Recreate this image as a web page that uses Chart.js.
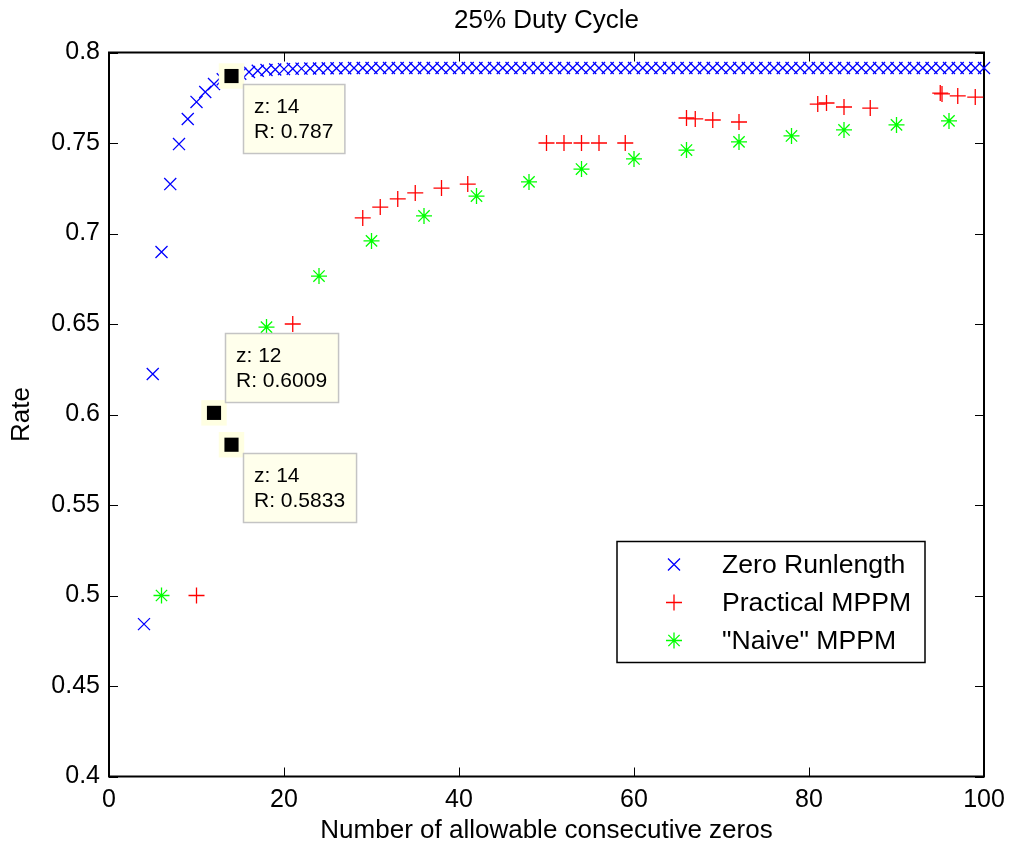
<!DOCTYPE html>
<html>
<head>
<meta charset="utf-8">
<title>25% Duty Cycle</title>
<script src="https://cdn.jsdelivr.net/npm/chart.js@4/dist/chart.umd.min.js"></script>
<style>
  html, body { margin: 0; padding: 0; background: #fff; }
  .chart_wrap { width: 1011px; height: 848px; }
</style>
</head>
<body>
<div class="chart_wrap"><canvas id="myCanvas"></canvas></div>
<script>
// zero runlength code, z = 4..100
const zrZeros = [
  4, 5, 6, 7, 8, 9, 10, 11, 12, 13, 14, 15, 16, 17, 18, 19, 20,
  21, 22, 23, 24, 25, 26, 27, 28, 29, 30,
  31, 32, 33, 34, 35, 36, 37, 38, 39, 40,
  41, 42, 43, 44, 45, 46, 47, 48, 49, 50,
  51, 52, 53, 54, 55, 56, 57, 58, 59, 60,
  61, 62, 63, 64, 65, 66, 67, 68, 69, 70,
  71, 72, 73, 74, 75, 76, 77, 78, 79, 80,
  81, 82, 83, 84, 85, 86, 87, 88, 89, 90,
  91, 92, 93, 94, 95, 96, 97, 98, 99, 100
];
const zrRate = [
  0.4842, 0.6224, 0.6898, 0.7273, 0.7494, 0.7633, 0.7727, 0.7782, 0.7826, 0.7852, 0.7870, 0.7883, 0.7892, 0.7899, 0.7903, 0.7906, 0.7908,
  0.7910, 0.7911, 0.7912, 0.7912, 0.7913, 0.7913, 0.7913, 0.7914, 0.7914, 0.7914,
  0.7914, 0.7914, 0.7914, 0.7914, 0.7914, 0.7914, 0.7914, 0.7914, 0.7914, 0.7914,
  0.7914, 0.7914, 0.7914, 0.7914, 0.7914, 0.7914, 0.7914, 0.7914, 0.7914, 0.7914,
  0.7914, 0.7914, 0.7914, 0.7914, 0.7914, 0.7914, 0.7914, 0.7914, 0.7914, 0.7914,
  0.7914, 0.7914, 0.7914, 0.7914, 0.7914, 0.7914, 0.7914, 0.7914, 0.7914, 0.7914,
  0.7914, 0.7914, 0.7914, 0.7914, 0.7914, 0.7914, 0.7914, 0.7914, 0.7914, 0.7914,
  0.7914, 0.7914, 0.7914, 0.7914, 0.7914, 0.7914, 0.7914, 0.7914, 0.7914, 0.7914,
  0.7914, 0.7914, 0.7914, 0.7914, 0.7914, 0.7914, 0.7914, 0.7914, 0.7914, 0.7914
];

// practical MPPM
const pracZeros = [10, 21, 29, 31, 33, 35, 38, 41, 50, 52, 54, 56, 59, 66, 67, 69, 72, 81, 82, 84, 87, 95, 95.2, 97, 99];
const pracRate = [0.500, 0.650, 0.7086, 0.7146, 0.7191, 0.7224, 0.7251, 0.7273, 0.750, 0.750, 0.750, 0.750, 0.750,
  0.7638, 0.7633, 0.7627, 0.7616, 0.7715, 0.7721, 0.7699, 0.7693, 0.7776, 0.7771, 0.7760, 0.7754];

// "naive" MPPM
const naiveZeros = [6, 18, 24, 30, 36, 42, 48, 54, 60, 66, 72, 78, 84, 90, 96];
const naiveRate = [0.500, 0.6483, 0.6765, 0.6959, 0.7097, 0.7207, 0.7285, 0.7356, 0.7412, 0.7461, 0.7506, 0.7539, 0.7572, 0.7600, 0.7622];

// data tips
const tipZeros = [12, 14, 14];
const tipRate = [0.6009, 0.5833, 0.787];
const tipPlace = ['above', 'below', 'below'];

const xTicks = [0, 20, 40, 60, 80, 100];
const yTicks = [0.4, 0.45, 0.5, 0.55, 0.6, 0.65, 0.7, 0.75, 0.8];

const titleText = '25% Duty Cycle';
const fontFam = '"Liberation Sans", Arial, sans-serif';

const toPoints = (xs, ys) => xs.map((x, i) => ({x: x, y: ys[i]}));

// frame with inward ticks on all four sides, title over the plot
const frameBox = {
  id: 'frameBox',
  beforeDatasetsDraw(chart){
    const {ctx, chartArea: a, scales: {x, y}} = chart;
    const len = 9;
    ctx.save();
    ctx.strokeStyle = '#000';
    ctx.lineWidth = 1;
    ctx.beginPath();
    x.ticks.forEach((t)=>{
      let px = Math.round(x.getPixelForValue(t.value)) + 0.5;
      ctx.moveTo(px, a.bottom); ctx.lineTo(px, a.bottom - len);
      ctx.moveTo(px, a.top); ctx.lineTo(px, a.top + len);
    });
    y.ticks.forEach((t)=>{
      let py = Math.round(y.getPixelForValue(t.value)) + 0.5;
      ctx.moveTo(a.left, py); ctx.lineTo(a.left + len, py);
      ctx.moveTo(a.right, py); ctx.lineTo(a.right - len, py);
    });
    ctx.stroke();
    ctx.lineWidth = 2;
    ctx.strokeRect(a.left, a.top, a.right - a.left, a.bottom - a.top);

    ctx.fillStyle = '#000';
    ctx.font = '26px ' + fontFam;
    ctx.textAlign = 'center';
    ctx.textBaseline = 'middle';
    ctx.fillText(titleText, (a.left + a.right) / 2, 21);
    ctx.restore();
  }
};

// data tip boxes + legend
const overlay = {
  id: 'overlay',
  afterDatasetsDraw(chart){
    const {ctx, chartArea: a, scales: {x, y}} = chart;
    ctx.save();
    ctx.font = '21px ' + fontFam;
    ctx.textBaseline = 'middle';
    tipZeros.forEach((z, i)=>{
      let px = x.getPixelForValue(z), py = y.getPixelForValue(tipRate[i]);
      let line1 = 'z: ' + z, line2 = 'R: ' + tipRate[i];
      let w = Math.max(ctx.measureText(line1).width, ctx.measureText(line2).width) + 22;
      let h = 69;
      let left = Math.round(px + 11);
      let top = tipPlace[i] === 'above' ? Math.round(py - 11 - h) : Math.round(py + 8);
      ctx.fillStyle = 'rgb(255,255,236)';
      ctx.fillRect(left, top, w, h);
      ctx.strokeStyle = '#c4c4c4';
      ctx.lineWidth = 1.5;
      ctx.strokeRect(left + 0.5, top + 0.5, w, h);
      ctx.fillStyle = '#000';
      ctx.fillText(line1, left + 11, top + 23);
      ctx.fillText(line2, left + 11, top + 48);
    });

    // legend
    const lg = {w: 308, h: 121};
    const lx = a.right - 59 - lg.w, ly = a.bottom - 114 - lg.h;
    ctx.fillStyle = '#fff';
    ctx.fillRect(lx, ly, lg.w, lg.h);
    ctx.strokeStyle = '#000';
    ctx.lineWidth = 1.5;
    ctx.strokeRect(lx, ly, lg.w, lg.h);
    ctx.font = '26.6px ' + fontFam;
    chart.data.datasets.filter(d => d.inLegend).forEach((d, i)=>{
      let ry = ly + 23 + i * 38;
      ctx.strokeStyle = d.borderColor;
      ctx.fillStyle = d.borderColor;
      ctx.lineWidth = d.borderWidth;
      Chart.helpers.drawPoint(ctx, {pointStyle: d.pointStyle, radius: d.pointRadius, rotation: 0, borderWidth: d.borderWidth}, lx + 57, ry);
      ctx.fillStyle = '#000';
      ctx.fillText(d.label, lx + 105, ry + 1);
    });
    ctx.restore();
  }
};

const ctx = document.querySelector('#myCanvas').getContext('2d');
const myChart = new Chart(ctx, {
  type: 'scatter',
  data: {
    datasets: [
      {label: 'tip', data: toPoints(tipZeros, tipRate), pointStyle: 'rect', pointRadius: 10,
        backgroundColor: '#000', borderColor: '#000', borderWidth: 0, order: 0, clip: false},
      {label: 'tip halo', data: toPoints(tipZeros, tipRate), pointStyle: 'rect', pointRadius: 18,
        backgroundColor: 'rgb(255,255,226)', borderColor: 'rgb(255,255,226)', borderWidth: 0, order: 1, clip: false},
      {label: 'Zero Runlength', inLegend: true, data: toPoints(zrZeros, zrRate), pointStyle: 'crossRot', pointRadius: 8.5,
        borderColor: '#0000ff', backgroundColor: '#0000ff', borderWidth: 1.3, order: 2, clip: false},
      {label: 'Practical MPPM', inLegend: true, data: toPoints(pracZeros, pracRate), pointStyle: 'cross', pointRadius: 8,
        borderColor: '#ff0000', backgroundColor: '#ff0000', borderWidth: 1.3, order: 3, clip: false},
      {label: '"Naive" MPPM', inLegend: true, data: toPoints(naiveZeros, naiveRate), pointStyle: 'star', pointRadius: 8,
        borderColor: '#00ff00', backgroundColor: '#00ff00', borderWidth: 1.3, order: 4, clip: false}
    ]
  },
  options: {
    responsive: true,
    maintainAspectRatio: false,
    animation: false,
    events: [],
    layout: {padding: {left: 0, right: 27, top: 52.5, bottom: 0}},
    plugins: {
      legend: {display: false},
      tooltip: {enabled: false},
      title: {display: false}
    },
    scales: {
      x: {
        type: 'linear', min: 0, max: 100,
        afterBuildTicks: s => { s.ticks = xTicks.map(v => ({value: v})); },
        afterFit: s => { s.height = 71.5; s.paddingLeft = 0; s.paddingRight = 0; },
        grid: {display: false, drawTicks: false},
        border: {display: false},
        ticks: {color: '#000', padding: 9, maxRotation: 0, font: {family: fontFam, size: 25}},
        title: {display: true, text: 'Number of allowable consecutive zeros', color: '#000',
          font: {family: fontFam, size: 26}, padding: {top: 0, bottom: 2}}
      },
      y: {
        type: 'linear', min: 0.4, max: 0.8,
        afterBuildTicks: s => { s.ticks = yTicks.map(v => ({value: v})); },
        afterFit: s => { s.width = 109; s.paddingTop = 0; s.paddingBottom = 0; },
        grid: {display: false, drawTicks: false},
        border: {display: false},
        ticks: {color: '#000', padding: 9, font: {family: fontFam, size: 25},
          callback: v => String(Number(v.toFixed(2)))},
        title: {display: true, text: 'Rate', color: '#000',
          font: {family: fontFam, size: 26}, padding: {top: 6.4, bottom: 0}}
      }
    }
  },
  plugins: [frameBox, overlay]
});
</script>
</body>
</html>
